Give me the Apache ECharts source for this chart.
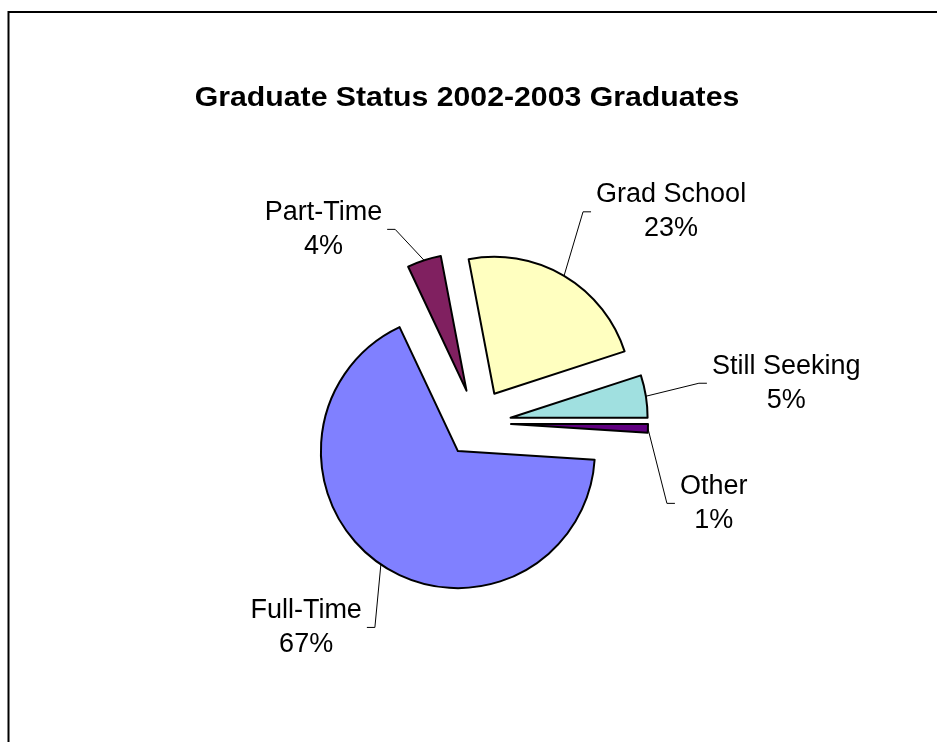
<!DOCTYPE html>
<html>
<head>
<meta charset="utf-8">
<script src="https://cdn.jsdelivr.net/npm/echarts@6/dist/echarts.min.js"></script>
<style>
html, body { margin: 0; padding: 0; background: #ffffff; }
#chart { width: 937px; height: 742px; }
</style>
</head>
<body>
<div id="chart"></div>
<script>
// ---- data ----
const categories = ['Full-Time', 'Part-Time', 'Grad School', 'Still Seeking', 'Other'];
const values = [67, 4, 23, 5, 1];
const titleText = 'Graduate Status 2002-2003 Graduates';

// ---- style ----
const sliceColors = ['#8080FF', '#802060', '#FFFFC0', '#A0E0E0', '#600080'];
const explodeOffset = 34;
// leader line vector (from exploded slice edge to label anchor), per label
const leaderVectors = {
  'Full-Time': [-14, 63],
  'Part-Time': [-37, -31],
  'Grad School': [27, -64],
  'Still Seeking': [61, -13],
  'Other': [27, 75]
};
const FONT = '"Liberation Sans", Arial, Helvetica, sans-serif';

const chart = echarts.init(document.getElementById('chart'), null, { renderer: 'canvas' });

const sliceData = categories.map((c, i) => ({
  name: c,
  value: values[i],
  selected: true,
  itemStyle: { color: sliceColors[i] }
}));
const labelData = categories.map((c, i) => ({ name: c, value: values[i] }));

const common = {
  type: 'pie',
  center: [477, 423],
  radius: 137,
  startAngle: -3.6,
  clockwise: true,
  avoidLabelOverlap: false,
  animation: false,
  emphasis: { disabled: true, scale: false }
};

const option = {
  backgroundColor: '#ffffff',
  animation: false,
  graphic: [
    {
      type: 'rect',
      shape: { x: 8.5, y: 12, width: 1000, height: 800 },
      style: { fill: 'none', stroke: '#000000', lineWidth: 2 },
      silent: true
    },
    {
      type: 'text',
      x: 467,
      y: 99,
      scaleX: 1.12,
      style: {
        text: titleText,
        fontSize: 27,
        fontWeight: 'bold',
        fontFamily: FONT,
        fill: '#000000',
        align: 'center',
        verticalAlign: 'middle'
      },
      silent: true
    }
  ],
  series: [
    Object.assign({}, common, {
      name: 'slices',
      selectedMode: 'multiple',
      selectedOffset: explodeOffset,
      itemStyle: { borderColor: '#000000', borderWidth: 2 },
      select: { itemStyle: { borderColor: '#000000', borderWidth: 2 } },
      label: { show: false },
      labelLine: { show: false },
      data: sliceData
    }),
    Object.assign({}, common, {
      name: 'labels',
      silent: true,
      selectedMode: false,
      z: 3,
      itemStyle: { color: 'rgba(0,0,0,0)', borderWidth: 0 },
      label: {
        show: true,
        position: 'outside',
        color: '#000000',
        fontFamily: FONT,
        fontSize: 27,
        lineHeight: 34,
        formatter: function (p) {
          return '{n|' + p.name + '}\n{n|' + Math.round(p.percent) + '%}';
        },
        rich: {
          n: { align: 'center', fontSize: 27, lineHeight: 34, fontFamily: FONT, color: '#000000' }
        }
      },
      labelLine: {
        show: true,
        length: 10,
        length2: 1,
        minTurnAngle: 0,
        maxSurfaceAngle: 180,
        lineStyle: { color: '#000000', width: 1 }
      },
      labelLayout: function (params) {
        const pts = params.labelLinePoints;
        if (!pts) return {};
        const name = categories[params.dataIndex];
        const vec = leaderVectors[name];
        const p0 = pts[0], p1 = pts[1];
        const ux0 = p1[0] - p0[0], uy0 = p1[1] - p0[1];
        const len = Math.sqrt(ux0 * ux0 + uy0 * uy0) || 1;
        const ux = ux0 / len, uy = uy0 / len;
        const start = [p0[0] + ux * explodeOffset, p0[1] + uy * explodeOffset];
        const end = [start[0] + vec[0], start[1] + vec[1]];
        const side = vec[0] < 0 ? -1 : 1;
        const bend = [end[0] - side * 8, end[1]];
        return {
          x: end[0] + side * 5,
          y: end[1],
          align: side < 0 ? 'right' : 'left',
          verticalAlign: 'middle',
          labelLinePoints: [start, bend, end]
        };
      },
      data: labelData
    })
  ]
};

chart.setOption(option);
</script>
</body>
</html>
